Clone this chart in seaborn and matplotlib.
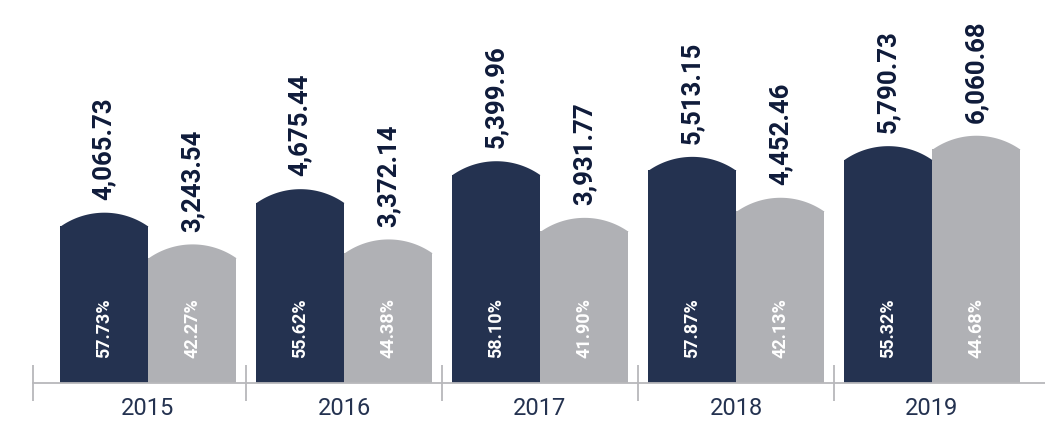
import numpy as np
import pandas as pd
import matplotlib
matplotlib.use("Agg")
import matplotlib.pyplot as plt
import seaborn as sns

# ------------------------------------------------------------------
#  Data
# ------------------------------------------------------------------
years = ["2015", "2016", "2017", "2018", "2019"]
dark_values = [4065.73, 4675.44, 5399.96, 5513.15, 5790.73]
gray_values = [3243.54, 3372.14, 3931.77, 4452.46, 6060.68]
dark_pct = ["57.73%", "55.62%", "58.10%", "57.87%", "55.32%"]
gray_pct = ["42.27%", "44.38%", "41.90%", "42.13%", "44.68%"]

NAVY = "#243250"
GRAY = "#b0b1b5"
TEXT_DARK = "#0f1b3a"
AXIS_GRAY = "#b8b8bb"

df = pd.DataFrame({
    "year": years * 2,
    "series": ["a"] * len(years) + ["b"] * len(years),
    "value": dark_values + gray_values,
})

sns.set_style("white")
plt.rcParams["font.family"] = ["Roboto", "DejaVu Sans"]

fig = plt.figure(figsize=(10.45, 4.26), dpi=100)
ax = fig.add_axes([33 / 1045, 43 / 426, 1012 / 1045, 383 / 426])

sns.barplot(data=df, x="year", y="value", hue="series",
            palette=[NAVY, GRAY], width=0.9, saturation=1,
            legend=False, linewidth=0, ax=ax)

ax.set_xlim(-0.587, 4.577)
ax.set_ylim(0, 9930)

# pixel scale of the data coordinates
p0 = ax.transData.transform((0, 0))
p1 = ax.transData.transform((1, 1000))
px_x = p1[0] - p0[0]
px_y = (p1[1] - p0[1]) / 1000.0

# arched tops: circular segment drawn in pixel space
rise_px = 14.0
for bar in ax.patches:
    x0, w, h = bar.get_x(), bar.get_width(), bar.get_height()
    chord = w * px_x
    r = (chord ** 2 / 4 + rise_px ** 2) / (2 * rise_px)
    xs = np.linspace(x0, x0 + w, 80)
    dx = (xs - (x0 + w / 2)) * px_x
    ys = h + (np.sqrt(r ** 2 - dx ** 2) - (r - rise_px)) / px_y
    ax.fill_between(xs, h - 1, ys, color=bar.get_facecolor(),
                    linewidth=0, clip_on=False)

# labels
for cont, vals, pcts in zip(ax.containers, [dark_values, gray_values],
                            [dark_pct, gray_pct]):
    for bar, v, p in zip(cont, vals, pcts):
        xc = bar.get_x() + bar.get_width() / 2
        ax.annotate(f"{v:,.2f}", (xc, bar.get_height()),
                    xytext=(0, 19), textcoords="offset points",
                    rotation=90, ha="center", va="bottom",
                    fontsize=18.5, fontweight="bold", color=TEXT_DARK,
                    annotation_clip=False)
        ax.text(xc, 1430, p, rotation=90, ha="center", va="center",
                fontsize=13, fontweight="bold", color="white")

# axis styling
sns.despine(ax=ax, left=True, top=True, right=True)
ax.spines["bottom"].set_color(AXIS_GRAY)
ax.spines["bottom"].set_linewidth(1.3)
ax.set_yticks([])
ax.set_xlabel("")
ax.set_ylabel("")
ax.set_xticks(range(len(years)))
ax.set_xticklabels(years, fontsize=17, color=NAVY)
ax.tick_params(axis="x", which="major", length=0, pad=10)
ax.set_xticks([-0.587, 0.5, 1.5, 2.5, 3.5], minor=True)
ax.tick_params(axis="x", which="minor", bottom=True, length=26,
               width=1.3, color=AXIS_GRAY, direction="inout")

fig.savefig("out.png", dpi=100)
